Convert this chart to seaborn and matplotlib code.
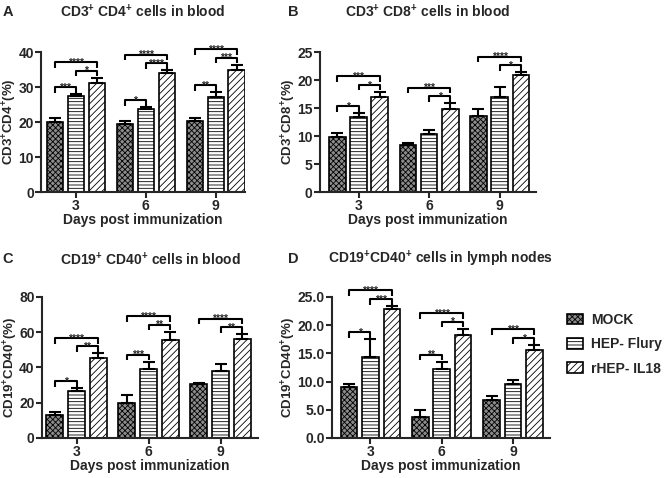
import matplotlib
matplotlib.use("Agg")
import matplotlib.pyplot as plt
from matplotlib.patches import Patch
import pandas as pd
import seaborn as sns

days = ["3", "6", "9"]
groups = ["MOCK", "HEP- Flury", "rHEP- IL18"]

# panel A: CD3+ CD4+ in blood
a_mean = {"MOCK": [19.9, 19.6, 20.2], "HEP- Flury": [27.4, 23.8, 27.1], "rHEP- IL18": [31.3, 33.9, 35.0]}
a_sem = {"MOCK": [1.2, 0.6, 1.1], "HEP- Flury": [0.6, 0.5, 1.5], "rHEP- IL18": [1.4, 1.0, 1.4]}
# panel B: CD3+ CD8+ in blood
b_mean = {"MOCK": [9.9, 8.4, 13.6], "HEP- Flury": [13.5, 10.4, 16.9], "rHEP- IL18": [16.9, 14.8, 21.0]}
b_sem = {"MOCK": [0.7, 0.3, 1.2], "HEP- Flury": [0.6, 0.7, 1.9], "rHEP- IL18": [1.0, 1.1, 0.4]}
# panel C: CD19+ CD40+ in blood
c_mean = {"MOCK": [13.2, 19.8, 30.7], "HEP- Flury": [26.4, 39.2, 38.2], "rHEP- IL18": [45.2, 55.5, 56.1]}
c_sem = {"MOCK": [1.3, 4.7, 0.4], "HEP- Flury": [1.8, 4.1, 3.8], "rHEP- IL18": [2.8, 4.8, 2.8]}
# panel D: CD19+ CD40+ in lymph nodes
d_mean = {"MOCK": [9.1, 3.7, 6.8], "HEP- Flury": [14.3, 12.2, 9.6], "rHEP- IL18": [22.9, 18.2, 15.6]}
d_sem = {"MOCK": [0.4, 1.3, 0.6], "HEP- Flury": [3.2, 1.3, 0.7], "rHEP- IL18": [0.5, 1.2, 0.9]}

# significance: (day index, group i, group j, stars)
a_sig = [(0, 0, 1, "***"), (0, 1, 2, "*"), (0, 0, 2, "****"),
         (1, 0, 1, "*"), (1, 1, 2, "****"), (1, 0, 2, "****"),
         (2, 0, 1, "**"), (2, 1, 2, "***"), (2, 0, 2, "****")]
b_sig = [(0, 0, 1, "*"), (0, 1, 2, "*"), (0, 0, 2, "***"),
         (1, 1, 2, "*"), (1, 0, 2, "***"),
         (2, 1, 2, "*"), (2, 0, 2, "****")]
c_sig = [(0, 0, 1, "*"), (0, 1, 2, "**"), (0, 0, 2, "****"),
         (1, 0, 1, "***"), (1, 1, 2, "**"), (1, 0, 2, "****"),
         (2, 1, 2, "**"), (2, 0, 2, "****")]
d_sig = [(0, 0, 1, "*"), (0, 1, 2, "***"), (0, 0, 2, "****"),
         (1, 0, 1, "**"), (1, 1, 2, "*"), (1, 0, 2, "****"),
         (2, 1, 2, "*"), (2, 0, 2, "***")]

titles = [r"CD3$^{\mathbf{+}}$ CD4$^{\mathbf{+}}$ cells in blood",
          r"CD3$^{\mathbf{+}}$ CD8$^{\mathbf{+}}$ cells in blood",
          r"CD19$^{\mathbf{+}}$ CD40$^{\mathbf{+}}$ cells in blood",
          r"CD19$^{\mathbf{+}}$CD40$^{\mathbf{+}}$ cells in lymph nodes"]
ylabels = [r"CD3$^{\mathbf{+}}$CD4$^{\mathbf{+}}$(%)",
           r"CD3$^{\mathbf{+}}$CD8$^{\mathbf{+}}$(%)",
           r"CD19$^{\mathbf{+}}$CD40$^{\mathbf{+}}$(%)",
           r"CD19$^{\mathbf{+}}$CD40$^{\mathbf{+}}$(%)"]

sns.set_style("ticks")
plt.rcParams["font.family"] = ["Liberation Sans", "DejaVu Sans"]
plt.rcParams["font.weight"] = "bold"
plt.rcParams["axes.labelweight"] = "bold"
plt.rcParams["mathtext.fontset"] = "custom"
plt.rcParams["mathtext.rm"] = "Liberation Sans:bold"
plt.rcParams["mathtext.bf"] = "Liberation Sans:bold"
plt.rcParams["mathtext.it"] = "Liberation Sans:bold"
plt.rcParams["hatch.linewidth"] = 0.6

colors = {"MOCK": "#8c8c8c", "HEP- Flury": "white", "rHEP- IL18": "white"}
hatches = {"MOCK": "xxxxxx", "HEP- Flury": "-----", "rHEP- IL18": "/////"}

fig = plt.figure(figsize=(6.66, 4.78), dpi=100)
panels = [
    ("A", a_mean, a_sem, a_sig, 40, 10, "{:.0f}", [0.0616, 0.598, 0.3063, 0.293], (-0.5, 2.42)),
    ("B", b_mean, b_sem, b_sig, 25, 5, "{:.0f}", [0.480, 0.598, 0.3243, 0.293], (-0.55, 2.51)),
    ("C", c_mean, c_sem, c_sig, 80, 20, "{:.0f}", [0.063, 0.0837, 0.3243, 0.295], (-0.48, 2.52)),
    ("D", d_mean, d_sem, d_sig, 25, 5, "{:.1f}", [0.4985, 0.0837, 0.3273, 0.295], (-0.54, 2.52)),
]

for k, (letter, means, sems, sigs, ymax, ystep, fmt, rect, xlim) in enumerate(panels):
    ax = fig.add_axes(rect)
    rows = []
    for g in groups:
        for d, m, s in zip(days, means[g], sems[g]):
            rows.append({"day": d, "group": g, "value": m, "sem": s})
    df = pd.DataFrame(rows)

    sns.barplot(data=df, x="day", y="value", hue="group", order=days, hue_order=groups,
                palette=colors, width=0.9, gap=0.22, edgecolor="black", linewidth=1.2,
                errorbar=None, legend=False, ax=ax)

    tops = {}
    for gi, (g, cont) in enumerate(zip(groups, ax.containers)):
        xs, hs = [], []
        for di, bar in enumerate(cont):
            bar.set_hatch(hatches[g])
            x = bar.get_x() + bar.get_width() / 2
            h = bar.get_height()
            xs.append(x)
            hs.append(h)
            tops[(di, gi)] = (x, h + sems[g][di])
        ax.errorbar(xs, hs, yerr=[[0] * 3, sems[g]], fmt="none", ecolor="black",
                    elinewidth=1.5, capsize=4, capthick=1.5, zorder=1)

    # significance brackets
    pad = 0.05 * ymax
    step = 0.06 * ymax
    leg = 0.04 * ymax
    level = {}
    for di, i, j, stars in sorted(sigs, key=lambda s: s[2] - s[1]):
        base = max(tops[(di, g)][1] for g in range(i, j + 1)) + pad
        if j - i > 1:
            inner = [level[key] for key in level if key[0] == di]
            if inner:
                base = max(base, max(inner) + step)
        level[(di, i, j)] = base
        x1, x2 = tops[(di, i)][0], tops[(di, j)][0]
        ax.plot([x1, x1, x2, x2], [base - leg, base, base, base - leg], color="black",
                lw=1.5, clip_on=False, solid_capstyle="butt")
        ax.annotate(stars, ((x1 + x2) / 2, base), xytext=(0, -2.5), textcoords="offset points",
                    ha="center", va="baseline", fontsize=7.5, annotation_clip=False)

    ax.set_ylim(0, ymax)
    ax.set_xlim(*xlim)
    ticks = list(range(0, ymax + 1, ystep))
    ax.set_yticks(ticks)
    ax.set_yticklabels([fmt.format(t) for t in ticks])
    ax.set_xlabel("Days post immunization", fontsize=10, labelpad=0)
    ax.set_ylabel(ylabels[k], fontsize=9.5, labelpad=-0.5)
    ax.tick_params(direction="out", length=4, width=1.5, labelsize=10, pad=1.2)
    for sp in ["left", "bottom"]:
        ax.spines[sp].set_linewidth(1.5)
    sns.despine(ax=ax)

    cx = rect[0] + rect[2] / 2
    ty = 0.9755 if k < 2 else 0.4575
    fig.text(cx, ty, titles[k], ha="center", va="center", fontsize=10)
    lx = 0.012 if k % 2 == 0 else 0.440
    fig.text(lx, ty, letter, ha="center", va="center", fontsize=10.5)

handles = [Patch(facecolor=colors[g], edgecolor="black", hatch=hatches[g], linewidth=1.2) for g in groups]
fig.legend(handles, groups, loc="center left", bbox_to_anchor=(0.852, 0.28), frameon=False,
           fontsize=10, handlelength=1.1, handleheight=0.8, labelspacing=0.75, handletextpad=0.6,
           borderpad=0, borderaxespad=0)

fig.savefig("out.png", dpi=100)
